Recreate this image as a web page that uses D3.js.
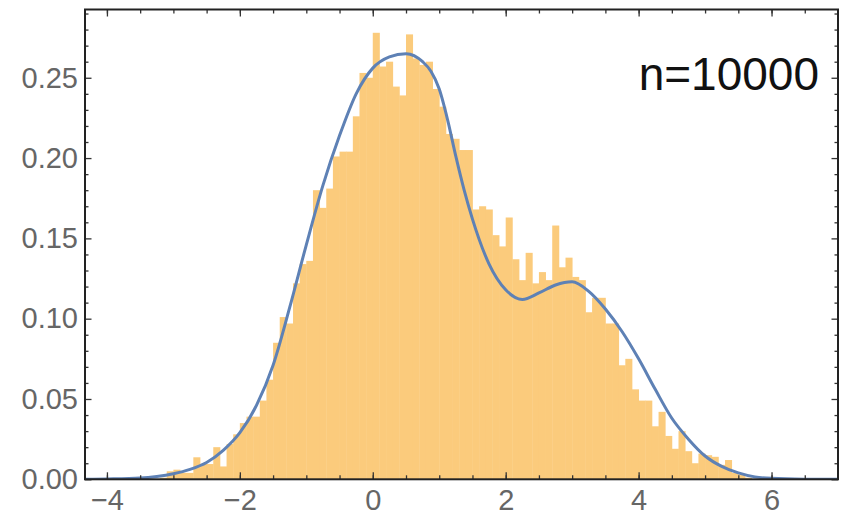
<!DOCTYPE html>
<html>
<head>
<meta charset="utf-8">
<script src="https://cdn.jsdelivr.net/npm/d3@7"></script>
<style>
  body { margin: 0; background: #fff; }
  svg { display: block; }
</style>
</head>
<body>
<svg id="chart" width="846" height="520"></svg>
<script>
// histogram bins (left edge, width 0.1) and their densities
var binLeft = [-3.2, -3.1, -3.0, -2.9, -2.8, -2.7, -2.6, -2.5, -2.4, -2.3,
	-2.2, -2.1, -2.0, -1.9, -1.8, -1.7, -1.6, -1.5, -1.4, -1.3,
	-1.2, -1.1, -1.0, -0.9, -0.8, -0.7, -0.6, -0.5, -0.4, -0.3,
	-0.2, -0.1, 0.0, 0.1, 0.2, 0.3, 0.4, 0.5, 0.6, 0.7,
	0.8, 0.9, 1.0, 1.1, 1.2, 1.3, 1.4, 1.5, 1.6, 1.7,
	1.8, 1.9, 2.0, 2.1, 2.2, 2.3, 2.4, 2.5, 2.6, 2.7,
	2.8, 2.9, 3.0, 3.1, 3.2, 3.3, 3.4, 3.5, 3.6, 3.7,
	3.8, 3.9, 4.0, 4.1, 4.2, 4.3, 4.4, 4.5, 4.6, 4.7,
	4.8, 4.9, 5.0, 5.1, 5.2, 5.3, 5.4, 5.5, 5.6];
var binWidth = 0.1;
var density = [0.001, 0.005, 0.006, 0.004, 0.004, 0.0137, 0.0095, 0.0095, 0.020, 0.008,
	0.022, 0.028, 0.035, 0.039, 0.039, 0.049, 0.062, 0.085, 0.101, 0.097,
	0.122, 0.134, 0.136, 0.180, 0.169, 0.181, 0.201, 0.204, 0.204, 0.226,
	0.253, 0.250, 0.278, 0.257, 0.260, 0.2445, 0.239, 0.277, 0.262, 0.258,
	0.260, 0.243, 0.232, 0.215, 0.212, 0.205, 0.205, 0.168, 0.170, 0.168,
	0.152, 0.145, 0.163, 0.137, 0.124, 0.141, 0.122, 0.129, 0.124, 0.158,
	0.132, 0.138, 0.126, 0.124, 0.104, 0.113, 0.113, 0.097, 0.097, 0.071,
	0.075, 0.056, 0.049, 0.049, 0.033, 0.042, 0.027, 0.019, 0.030, 0.0175,
	0.010, 0.016, 0.015, 0.014, 0.009, 0.012, 0.004, 0.003, 0.001];

// smooth density curve
var curveX = [-4.33, -4.0, -3.5, -3.25, -3.0, -2.75, -2.5, -2.25, -2.0, -1.75,
	-1.5, -1.25, -1.0, -0.75, -0.5, -0.25, 0.0, 0.25, 0.5, 0.75,
	0.875, 1.0, 1.125, 1.25, 1.375, 1.5, 1.75, 2.0, 2.25, 2.5,
	2.75, 3.0, 3.25, 3.5, 3.75, 4.0, 4.25, 4.5, 4.75, 5.0,
	5.25, 5.5, 5.75, 6.0, 6.5, 7.0];
var curveY = [0.0, 0.0002, 0.0008, 0.0018, 0.0035, 0.0062, 0.0105, 0.018, 0.029, 0.046,
	0.071, 0.107, 0.146, 0.183, 0.214, 0.240, 0.256, 0.263, 0.265, 0.260,
	0.254, 0.243, 0.224, 0.201, 0.180, 0.162, 0.134, 0.118, 0.112, 0.116,
	0.121, 0.123, 0.117, 0.106, 0.092, 0.075, 0.056, 0.038, 0.025, 0.0145,
	0.008, 0.004, 0.0015, 0.0006, 0.0001, 0.0];

var xMajor = [-4, -2, 0, 2, 4, 6];
var xMinor = [-4, -3.5, -3, -2.5, -2, -1.5, -1, -0.5, 0, 0.5, 1, 1.5, 2, 2.5, 3, 3.5, 4, 4.5, 5, 5.5, 6, 6.5];
var yMajor = [0, 0.05, 0.10, 0.15, 0.20, 0.25];
var yMinor = [0.01, 0.02, 0.03, 0.04, 0.06, 0.07, 0.08, 0.09, 0.11, 0.12, 0.13, 0.14,
	0.16, 0.17, 0.18, 0.19, 0.21, 0.22, 0.23, 0.24, 0.26, 0.27, 0.28, 0.29];
var label = "n=10000";

var plotLeft = 85, plotRight = 838, plotTop = 9.5, plotBottom = 479.3;

var svg = d3.select("#chart");

var x = d3.scaleLinear().domain([-4.33, 7.0]).range([plotLeft, plotRight]);
var y = d3.scaleLinear().domain([0, 0.2925]).range([plotBottom, plotTop]);

svg.append("clipPath").attr("id", "plotclip")
	.append("rect")
	.attr("x", plotLeft).attr("y", plotTop)
	.attr("width", plotRight - plotLeft).attr("height", plotBottom - plotTop);

// bars
svg.append("g")
	.attr("clip-path", "url(#plotclip)")
	.selectAll("rect")
	.data(binLeft)
	.enter()
	.append("rect")
	.attr("x", function(d) { return x(d); })
	.attr("width", function(d) { return x(d + binWidth) - x(d) + 0.4; })
	.attr("y", function(d, i) { return y(density[i]); })
	.attr("height", function(d, i) { return y(0) - y(density[i]); })
	.attr("fill", "#fbcb7c");

// density curve
var line = d3.line()
	.x(function(d) { return x(d); })
	.y(function(d, i) { return y(curveY[i]); })
	.curve(d3.curveMonotoneX);

svg.append("path")
	.datum(curveX)
	.attr("clip-path", "url(#plotclip)")
	.attr("d", line)
	.attr("fill", "none")
	.attr("stroke", "#5e81b5")
	.attr("stroke-width", 3);

// axes on all four sides, ticks pointing inward
function styleAxis(g) {
	g.select(".domain").remove();
	g.selectAll("line").attr("stroke", "#333").attr("stroke-width", 1.3);
	g.selectAll("text")
		.attr("fill", "#666")
		.style("font-family", "'Liberation Sans', Arial, sans-serif")
		.style("font-size", "29px");
}

var fmtY = d3.format(".2f");
var fmtX = function(d) { return d < 0 ? "\u2212" + Math.abs(d) : d; };

svg.append("g").attr("transform", "translate(0," + plotBottom + ")")
	.call(d3.axisBottom(x).tickValues(xMinor).tickSize(-4).tickFormat(""))
	.call(styleAxis);
svg.append("g").attr("transform", "translate(0," + plotBottom + ")")
	.call(d3.axisBottom(x).tickValues(xMajor).tickSize(-7).tickPadding(10).tickFormat(fmtX))
	.call(styleAxis);

svg.append("g").attr("transform", "translate(0," + plotTop + ")")
	.call(d3.axisTop(x).tickValues(xMinor).tickSize(-4).tickFormat(""))
	.call(styleAxis);
svg.append("g").attr("transform", "translate(0," + plotTop + ")")
	.call(d3.axisTop(x).tickValues(xMajor).tickSize(-7).tickFormat(""))
	.call(styleAxis);

svg.append("g").attr("transform", "translate(" + plotLeft + ",0)")
	.call(d3.axisLeft(y).tickValues(yMinor).tickSize(-3.5).tickFormat(""))
	.call(styleAxis);
svg.append("g").attr("transform", "translate(" + plotLeft + ",0)")
	.call(d3.axisLeft(y).tickValues(yMajor).tickSize(-6.5).tickPadding(7).tickFormat(fmtY))
	.call(styleAxis);

svg.append("g").attr("transform", "translate(" + plotRight + ",0)")
	.call(d3.axisRight(y).tickValues(yMinor).tickSize(-3.5).tickFormat(""))
	.call(styleAxis);
svg.append("g").attr("transform", "translate(" + plotRight + ",0)")
	.call(d3.axisRight(y).tickValues(yMajor).tickSize(-6.5).tickFormat(""))
	.call(styleAxis);

// frame
svg.append("rect")
	.attr("x", plotLeft).attr("y", plotTop)
	.attr("width", plotRight - plotLeft).attr("height", plotBottom - plotTop)
	.attr("fill", "none")
	.attr("stroke", "#222")
	.attr("stroke-width", 2);

// sample size label
svg.append("text")
	.attr("x", 819)
	.attr("y", 90)
	.attr("text-anchor", "end")
	.style("font-family", "'Liberation Sans', Arial, sans-serif")
	.style("font-size", "46px")
	.attr("fill", "#111")
	.text(label);
</script>
</body>
</html>
